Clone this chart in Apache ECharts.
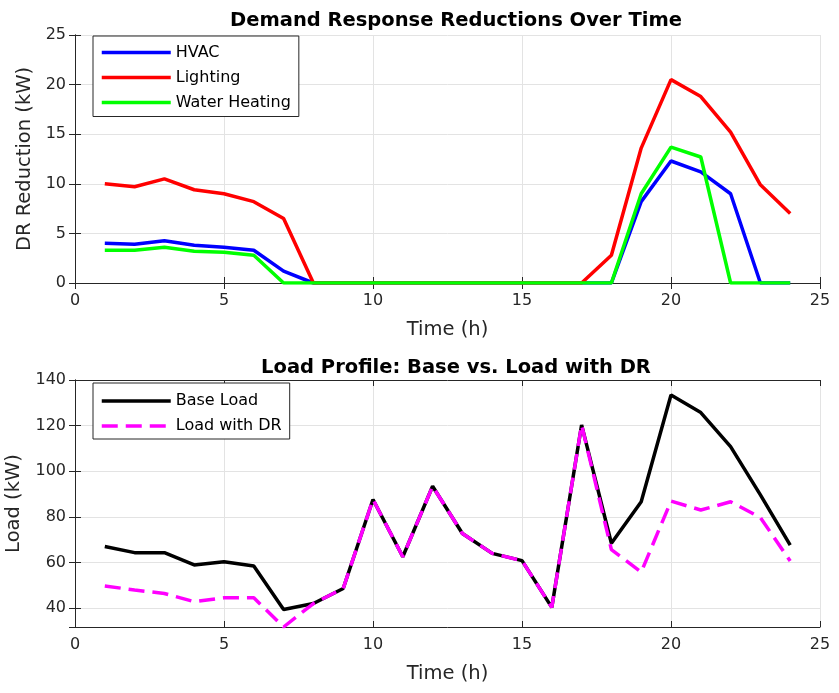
<!DOCTYPE html>
<html>
<head>
<meta charset="utf-8">
<script src="https://cdn.jsdelivr.net/npm/echarts@6/dist/echarts.min.js"></script>
<style>
  html, body { margin: 0; padding: 0; background: #fff; }
  #main { width: 839px; height: 693px; }
</style>
</head>
<body>
<div id="main"></div>
<script>
// hours 1..24
var hours = [1,2,3,4,5,6,7,8,9,10,11,12,13,14,15,16,17,18,19,20,21,22,23,24];

// DR reductions (kW)
var hvac     = [4.0, 3.9, 4.25, 3.8, 3.6, 3.3, 1.2, 0, 0, 0, 0, 0, 0, 0, 0, 0, 0, 0, 8.2, 12.3, 11.2, 9.0, 0, 0];
var lighting = [10.0, 9.7, 10.5, 9.4, 9.0, 8.2, 6.5, 0, 0, 0, 0, 0, 0, 0, 0, 0, 0, 2.8, 13.6, 20.5, 18.8, 15.2, 9.9, 7.0];
var water    = [3.3, 3.3, 3.6, 3.2, 3.1, 2.8, 0, 0, 0, 0, 0, 0, 0, 0, 0, 0, 0, 0, 9.0, 13.7, 12.7, 0, 0, 0];

// load profile (kW)
var baseLoad = [67, 64.3, 64.3, 58.9, 60.3, 58.4, 39.4, 42, 48.6, 87.6, 62.5, 93.4, 72.7, 64, 60.8, 40.3, 120.3, 68.4, 86.6, 133.4, 125.7, 110.8, 89.6, 67.6];
var drLoad   = [49.7, 47.9, 46.4, 42.8, 44.5, 44.5, 31.7, 42, 48.6, 87.6, 62.5, 93.4, 72.7, 64, 60.8, 40.3, 120.3, 65.6, 55.8, 86.9, 83.0, 86.6, 79.7, 60.6];

function pairs(ys) {
  return hours.map(function (h, i) { return [h, ys[i]]; });
}

var font = 'DejaVu Sans, sans-serif';
var ink = '#262626';

function xAx(gi, top) {
  var a = {
    type: 'value', gridIndex: gi, min: 0, max: 25, interval: 5,
    position: top ? 'top' : 'bottom',
    axisLine: { show: true, lineStyle: { color: ink } },
    axisTick: { show: true, inside: true, length: 6, lineStyle: { color: ink } },
    axisLabel: { show: !top, fontSize: 16, color: ink, fontFamily: font, margin: 10 },
    splitLine: { show: !top, lineStyle: { color: '#e3e3e3' } }
  };
  if (!top) {
    a.name = 'Time (h)';
    a.nameLocation = 'middle';
    a.nameGap = 37;
    a.nameTextStyle = { fontSize: 19.5, color: ink, fontFamily: font };
  }
  return a;
}

function yAx(gi, right, min, max, interval, name, gap) {
  var a = {
    type: 'value', gridIndex: gi, min: min, max: max,
    position: right ? 'right' : 'left',
    axisLine: { show: true, lineStyle: { color: ink } },
    axisTick: { show: true, inside: true, length: 6, lineStyle: { color: ink } },
    axisLabel: { show: !right, fontSize: 16, color: ink, fontFamily: font, margin: 9, showMinLabel: interval ? true : false,
      formatter: function (v) { return v % 20 === 0 || interval ? String(v) : ''; } },
    splitLine: { show: !right, lineStyle: { color: '#e3e3e3' } }
  };
  if (interval) a.interval = interval;
  if (!right) {
    a.name = name;
    a.nameLocation = 'middle';
    a.nameGap = gap;
    a.nameTextStyle = { fontSize: 19.5, color: ink, fontFamily: font };
  }
  return a;
}

function legendBox(top, left, names, pad) {
  return {
    orient: 'vertical', left: left, top: top, data: names,
    itemWidth: 69, itemHeight: 20, itemGap: 5, padding: pad,
    borderColor: ink, borderWidth: 1, backgroundColor: '#fff',
    itemStyle: { opacity: 0 },
    lineStyle: { width: 3.5 },
    textStyle: { fontSize: 16, color: '#000', fontFamily: font, lineHeight: 20 }
  };
}

var option = {
  animation: false,
  backgroundColor: '#fff',
  title: [
    { text: 'Demand Response Reductions Over Time', left: 451, top: 6, textAlign: 'center',
      textStyle: { fontSize: 19.5, fontWeight: 'bold', color: '#000', fontFamily: font } },
    { text: 'Load Profile: Base vs. Load with DR', left: 451, top: 353, textAlign: 'center',
      textStyle: { fontSize: 19.5, fontWeight: 'bold', color: '#000', fontFamily: font } }
  ],
  grid: [
    { left: 75, right: 19, top: 35, height: 248, outerBoundsMode: 'none' },
    { left: 75, right: 19, top: 380, height: 247, outerBoundsMode: 'none' }
  ],
  legend: [
    legendBox(36, 93, ['HVAC', 'Lighting', 'Water Heating'], [6.5, 8, 4, 7]),
    legendBox(383, 93, ['Base Load', 'Load with DR'], [8, 8, 3, 7])
  ],
  xAxis: [xAx(0, false), xAx(1, false), xAx(0, true), xAx(1, true)],
  yAxis: [
    yAx(0, false, 0, 25, 5, 'DR Reduction (kW)', 38),
    yAx(1, false, 31.7, 140, 0, 'Load (kW)', 51),
    yAx(0, true, 0, 25, 5),
    yAx(1, true, 31.7, 140, 0)
  ],
  series: [
    { name: 'HVAC', type: 'line', xAxisIndex: 0, yAxisIndex: 0, data: pairs(hvac),
      symbol: 'none', color: '#0000ff', lineStyle: { width: 3.5, color: '#0000ff' } },
    { name: 'Lighting', type: 'line', xAxisIndex: 0, yAxisIndex: 0, data: pairs(lighting),
      symbol: 'none', color: '#ff0000', lineStyle: { width: 3.5, color: '#ff0000' } },
    { name: 'Water Heating', type: 'line', xAxisIndex: 0, yAxisIndex: 0, data: pairs(water),
      symbol: 'none', color: '#00ff00', lineStyle: { width: 3.5, color: '#00ff00' } },
    { name: 'Base Load', type: 'line', xAxisIndex: 1, yAxisIndex: 1, data: pairs(baseLoad),
      symbol: 'none', color: '#000000', lineStyle: { width: 3.5, color: '#000000' } },
    { name: 'Load with DR', type: 'line', xAxisIndex: 1, yAxisIndex: 1, data: pairs(drLoad),
      symbol: 'none', color: '#ff00ff', lineStyle: { width: 3.5, color: '#ff00ff', type: [16, 8] } }
  ]
};

var chartDom = document.getElementById('main');
var myChart = echarts.init(chartDom);
myChart.setOption(option);
</script>
</body>
</html>
